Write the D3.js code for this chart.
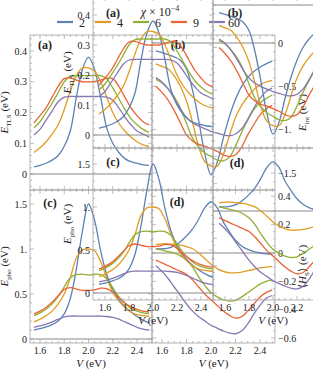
<!DOCTYPE html>
<html><head><meta charset="utf-8">
<script src="https://cdn.jsdelivr.net/npm/d3@7"></script>
<style>
body{margin:0;background:#fff}
svg text{font-family:"Liberation Serif","DejaVu Serif",serif;fill:#222}
</style></head><body>
<svg id="chart" width="313" height="373"></svg>
<script>
// bias voltage grid (eV)
const V = [1.55,1.6,1.65,1.7,1.75,1.8,1.85,1.9,1.95,2.0,2.05,2.1,2.15,2.2,2.25,2.3,2.35,2.4,2.45,2.5];
const chiLabels = ["2","4","6","9","60"];
const colors = ["#5e81b5","#e19c24","#8fb032","#eb6235","#8778b3"];

// one row per chi value, in chiLabels order
const eTLS = [
  [0.023,0.028,0.035,0.045,0.06,0.09,0.14,0.25,0.34,0.38,0.34,0.25,0.15,0.1,0.07,0.05,0.04,0.035,0.03,0.028],
  [0.07,0.085,0.105,0.13,0.16,0.21,0.27,0.32,0.345,0.345,0.335,0.3,0.25,0.2,0.165,0.14,0.12,0.105,0.095,0.09],
  [0.15,0.17,0.2,0.23,0.265,0.3,0.318,0.32,0.32,0.32,0.32,0.32,0.31,0.28,0.245,0.21,0.18,0.16,0.145,0.135],
  [0.166,0.19,0.215,0.25,0.285,0.31,0.312,0.305,0.3,0.3,0.3,0.305,0.312,0.31,0.285,0.25,0.215,0.19,0.17,0.16],
  [0.127,0.145,0.175,0.205,0.235,0.25,0.252,0.252,0.252,0.252,0.252,0.252,0.25,0.24,0.215,0.185,0.16,0.14,0.13,0.12]
];
const ePho = [
  [0.1,0.115,0.135,0.16,0.2,0.28,0.45,0.78,1.2,1.5,1.32,0.98,0.72,0.55,0.44,0.36,0.3,0.25,0.21,0.18],
  [0.19,0.22,0.26,0.31,0.39,0.5,0.68,0.9,0.99,1.0,0.98,0.86,0.68,0.52,0.42,0.35,0.3,0.27,0.26,0.25],
  [0.26,0.29,0.33,0.39,0.47,0.58,0.68,0.715,0.72,0.71,0.72,0.715,0.67,0.57,0.47,0.4,0.34,0.31,0.29,0.28],
  [0.28,0.31,0.35,0.41,0.48,0.55,0.57,0.555,0.54,0.54,0.545,0.565,0.56,0.52,0.46,0.4,0.36,0.33,0.31,0.3],
  [0.13,0.145,0.165,0.19,0.22,0.245,0.255,0.255,0.255,0.255,0.255,0.255,0.25,0.24,0.22,0.19,0.16,0.13,0.11,0.1]
];
const eInt = [
  [-0.09,-0.11,-0.135,-0.16,-0.2,-0.3,-0.55,-0.9,-1.28,-1.52,-1.38,-1.1,-0.85,-0.65,-0.5,-0.4,-0.33,-0.28,-0.24,-0.21],
  [-0.24,-0.27,-0.3,-0.38,-0.5,-0.67,-0.92,-1.2,-1.37,-1.42,-1.42,-1.29,-1.07,-0.86,-0.72,-0.62,-0.54,-0.48,-0.45,-0.43],
  [-0.42,-0.46,-0.53,-0.62,-0.75,-0.93,-1.1,-1.2,-1.27,-1.31,-1.35,-1.36,-1.32,-1.19,-1.03,-0.89,-0.77,-0.69,-0.64,-0.6],
  [-0.5,-0.57,-0.66,-0.78,-0.92,-1.06,-1.13,-1.17,-1.19,-1.22,-1.25,-1.29,-1.31,-1.29,-1.2,-1.06,-0.94,-0.83,-0.76,-0.72],
  [-0.4,-0.45,-0.53,-0.64,-0.76,-0.86,-0.92,-0.96,-0.99,-1.02,-1.04,-1.06,-1.07,-1.05,-0.99,-0.88,-0.75,-0.64,-0.56,-0.52]
];
const hS = [
  [0.03,0.03,0.035,0.05,0.08,0.12,0.17,0.24,0.32,0.36,0.32,0.22,0.15,0.09,0.05,0.025,0.01,0.0,-0.005,-0.01],
  [0.06,0.065,0.065,0.06,0.055,0.045,0.03,0.0,-0.04,-0.08,-0.11,-0.13,-0.14,-0.14,-0.135,-0.125,-0.115,-0.105,-0.1,-0.095],
  [0.03,0.02,0.01,0.0,-0.02,-0.05,-0.1,-0.17,-0.23,-0.28,-0.31,-0.33,-0.34,-0.335,-0.31,-0.28,-0.25,-0.22,-0.2,-0.19],
  [-0.05,-0.07,-0.09,-0.11,-0.13,-0.15,-0.19,-0.24,-0.29,-0.33,-0.37,-0.41,-0.44,-0.46,-0.45,-0.41,-0.36,-0.31,-0.28,-0.26],
  [-0.09,-0.13,-0.18,-0.24,-0.3,-0.36,-0.41,-0.45,-0.48,-0.51,-0.53,-0.55,-0.565,-0.57,-0.55,-0.5,-0.43,-0.37,-0.32,-0.3]
];

const vTicks = [1.6,1.8,2.0,2.2,2.4];
const tlsTicks = [0,0.1,0.2,0.3,0.4];
const phoTicks = [0,0.5,1,1.5];
const intTicks = [0,-0.5,-1,-1.5];
const hsTicks = [-0.6,-0.4,-0.2,0,0.2,0.4];

const svg = d3.select("#chart");
const frameColor = "#a0a0a0";

function fmtY(d) {
  if (Math.abs(d) < 1e-9) return "0";
  let s = Number.isInteger(d) ? Math.abs(d) + "." : Math.abs(d).toFixed(1);
  return (d < 0 ? "\u2212" : "") + s;
}

function axisTitle(g, x, y, main, sub, bracket) {
  const t = g.append("text").attr("transform", `translate(${x},${y}) rotate(-90)`)
    .attr("text-anchor", "middle").attr("font-size", 11);
  if (bracket) t.append("tspan").text("\u27e8");
  t.append("tspan").attr("font-style", "italic").text(main);
  t.append("tspan").attr("font-size", 7).attr("dy", 3).text(sub);
  if (bracket) t.append("tspan").attr("dy", -3).text("\u27e9 (eV)");
  else t.append("tspan").attr("dy", -3).text(" (eV)");
}

let clipId = 0;
function drawPanel(g, p) {
  const x = d3.scaleLinear().domain([1.6, 2.4]).range(p.xr);
  const y = d3.scaleLinear().domain(p.yd).range(p.yr);
  const id = "clip" + (clipId++);
  g.append("clipPath").attr("id", id).append("rect")
    .attr("x", p.x0).attr("y", p.y0).attr("width", p.x1 - p.x0).attr("height", p.y1 - p.y0);

  // zero axis
  g.append("line").attr("x1", p.x0).attr("x2", p.x1).attr("y1", y(0)).attr("y2", y(0))
    .attr("stroke", "#888").attr("stroke-width", 1);

  // frame
  g.append("rect").attr("x", p.x0).attr("y", p.y0).attr("width", p.x1 - p.x0).attr("height", p.y1 - p.y0)
    .attr("fill", "none").attr("stroke", frameColor).attr("stroke-width", 0.8);

  // x ticks (major + minor), both top and bottom
  const xt = g.append("g").attr("stroke", frameColor).attr("stroke-width", 0.7);
  d3.range(1.3, 2.8, 0.05).forEach(v => {
    const px = x(v);
    if (px <= p.x0 || px >= p.x1) return;
    const major = Math.abs(v * 5 - Math.round(v * 5)) < 1e-6;
    const len = major ? 4 : 2;
    xt.append("line").attr("x1", px).attr("x2", px).attr("y1", p.y1).attr("y2", p.y1 - len);
    xt.append("line").attr("x1", px).attr("x2", px).attr("y1", p.y0).attr("y2", p.y0 + len);
  });
  // y ticks
  const [lo, hi] = [Math.min(y.invert(p.y0), y.invert(p.y1)), Math.max(y.invert(p.y0), y.invert(p.y1))];
  const step = p.minor;
  for (let k = Math.ceil(lo / step); k * step <= hi; k++) {
    const v = k * step;
    const py = y(v);
    const major = Math.abs(v / p.majorStep - Math.round(v / p.majorStep)) < 1e-6;
    const len = major ? 4 : 2;
    xt.append("line").attr("x1", p.x0).attr("x2", p.x0 + len).attr("y1", py).attr("y2", py);
    xt.append("line").attr("x1", p.x1).attr("x2", p.x1 - len).attr("y1", py).attr("y2", py);
  }

  // y tick labels
  p.ticks.forEach(t => {
    g.append("text").attr("x", p.side === "left" ? p.x0 - 3 : p.x1 + 3).attr("y", y(t) + 3.5)
      .attr("text-anchor", p.side === "left" ? "end" : "start").attr("font-size", 10).text(fmtY(t));
  });
  if (p.bottom) {
    vTicks.forEach(t => {
      g.append("text").attr("x", x(t)).attr("y", p.y1 + 11).attr("text-anchor", "middle")
        .attr("font-size", 10).text(t.toFixed(1));
    });
    const vt = g.append("text").attr("x", (p.x0 + p.x1) / 2).attr("y", p.y1 + 24)
      .attr("text-anchor", "middle").attr("font-size", 11);
    vt.append("tspan").attr("font-style", "italic").text("V");
    vt.append("tspan").text(" (eV)");
  }

  // curves
  const line = d3.line().x((d, i) => x(V[i])).y(d => y(d)).curve(d3.curveCatmullRom.alpha(0.5));
  const cg = g.append("g").attr("clip-path", `url(#${id})`);
  p.data.forEach((row, i) => {
    cg.append("path").attr("d", line(row)).attr("fill", "none")
      .attr("stroke", colors[i]).attr("stroke-width", 1.3);
  });

  g.append("text").attr("x", p.lab[0]).attr("y", p.lab[1] + 4).attr("text-anchor", "middle")
    .attr("font-size", 12).attr("font-weight", "bold").text(`(${p.key})`);
}

function drawFigure(f) {
  const g = svg.append("g");
  const panels = [
    {key: "a", data: eTLS, ticks: tlsTicks, minor: 0.02, majorStep: 0.1, x0: f.L0, x1: f.L1, y0: f.T, y1: f.M,
     xr: f.xL, yd: [0, 0.4], yr: f.aY, side: "left", bottom: false, lab: f.labA},
    {key: "b", data: eInt, ticks: intTicks, minor: 0.1, majorStep: 0.5, x0: f.L1, x1: f.R1, y0: f.T, y1: f.M,
     xr: f.xR, yd: [0, -1.5], yr: f.bY, side: "right", bottom: false, lab: f.labB},
    {key: "c", data: ePho, ticks: phoTicks, minor: 0.1, majorStep: 0.5, x0: f.L0, x1: f.L1, y0: f.M, y1: f.B,
     xr: f.xL, yd: [0, 1.5], yr: f.cY, side: "left", bottom: true, lab: f.labC},
    {key: "d", data: hS, ticks: hsTicks, minor: 0.05, majorStep: 0.2, x0: f.L1, x1: f.R1, y0: f.M, y1: f.B,
     xr: f.xR, yd: [0, -0.6], yr: f.dY, side: "right", bottom: true, lab: f.labD}
  ];
  panels.forEach(p => drawPanel(g, p));

  axisTitle(g, f.L0 - 22, (f.T + f.M) / 2, "E", "TLS", false);
  axisTitle(g, f.L0 - 22, (f.M + f.B) / 2, "E", "pho", false);
  axisTitle(g, f.R1 + 31, (f.T + f.M) / 2, "E", "int", false);
  axisTitle(g, f.R1 + 31, (f.M + f.B) / 2, "H", "S", true);

  if (f.legend) {
    const t = g.append("text").attr("x", 160).attr("y", 16).attr("text-anchor", "middle").attr("font-size", 12);
    t.append("tspan").attr("font-style", "italic").text("\u03c7");
    t.append("tspan").text(" \u00d7 10");
    t.append("tspan").attr("font-size", 8).attr("dy", -5).text("\u22124");
    chiLabels.forEach((c, i) => {
      const lx = 57 + i * 38;
      g.append("line").attr("x1", lx).attr("x2", lx + 16).attr("y1", 22).attr("y2", 22)
        .attr("stroke", colors[i]).attr("stroke-width", 2.2);
      g.append("text").attr("x", lx + 25).attr("y", 27).attr("text-anchor", "middle")
        .attr("font-size", 12).text(c);
    });
  }
}

// large copy
drawFigure({
  L0: 30, L1: 152, R1: 275, T: 35, M: 190, B: 343,
  xL: [40, 137], xR: [162, 260],
  aY: [174, 51], bY: [43, 173], cY: [339, 204], dY: [253, 338],
  labA: [45, 45], labB: [178, 45], labC: [50, 203], labD: [177, 202],
  legend: true
});
// shifted copy
drawFigure({
  L0: 93, L1: 213, R1: 333, T: -3, M: 148, B: 300,
  xL: [105, 201], xR: [225, 321],
  aY: [135, 15], bY: [5, 132.5], cY: [293, 164], dY: [211, 293],
  labA: [113, 13], labB: [235, 13], labC: [113, 162], labD: [237, 163],
  legend: false
});
</script>
</body></html>
